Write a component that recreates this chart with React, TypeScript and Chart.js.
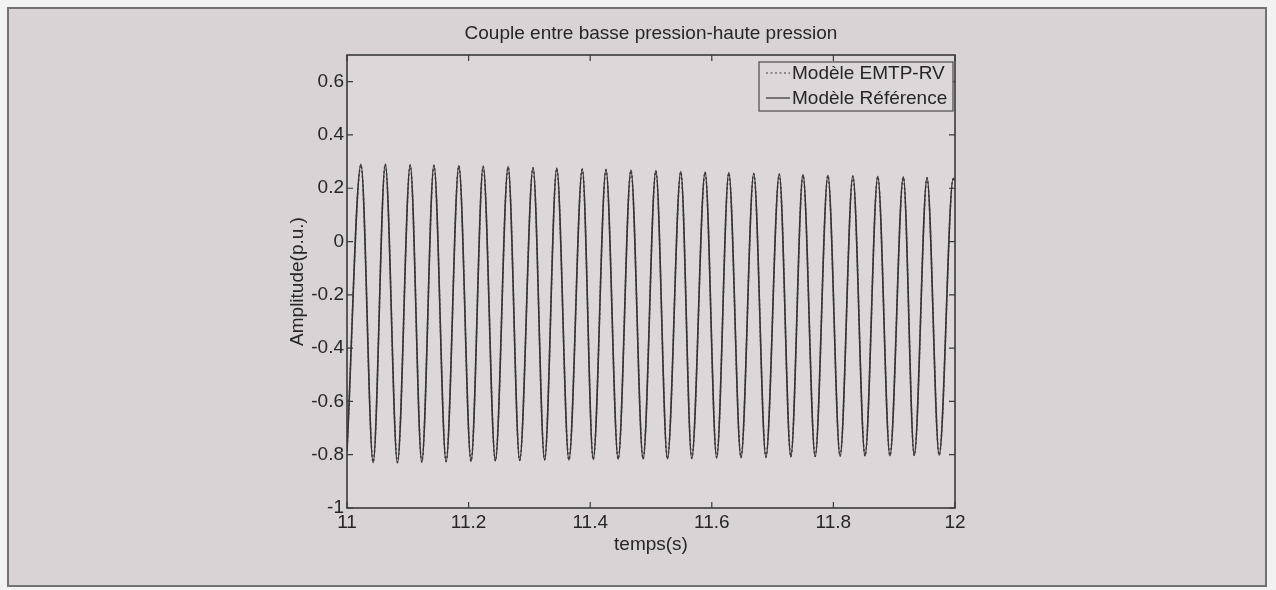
import React, { useEffect, useRef } from "react";
import { Chart, registerables } from "chart.js";

Chart.register(...registerables);

const chartTitle = "Couple entre basse pression-haute pression";
const xTitle = "temps(s)";
const yTitle = "Amplitude(p.u.)";
const seriesNames = ["Modèle EMTP-RV", "Modèle Référence"];

const xTickValues = [11, 11.2, 11.4, 11.6, 11.8, 12];
const xTickLabels = ["11", "11.2", "11.4", "11.6", "11.8", "12"];
const yTickValues = [-1, -0.8, -0.6, -0.4, -0.2, 0, 0.2, 0.4, 0.6];
const yTickLabels = ["-1", "-0.8", "-0.6", "-0.4", "-0.2", "0", "0.2", "0.4", "0.6"];

// time (s) of the start, each peak/trough, and the end
const timeS = [
  11.0, 11.023, 11.043, 11.063, 11.083, 11.104, 11.123, 11.143, 11.163, 11.184,
  11.204, 11.224, 11.244, 11.265, 11.284, 11.306, 11.325, 11.345, 11.365, 11.387,
  11.405, 11.426, 11.446, 11.467, 11.487, 11.508, 11.527, 11.549, 11.567, 11.589,
  11.608, 11.628, 11.648, 11.669, 11.689, 11.711, 11.73, 11.75, 11.77, 11.791,
  11.811, 11.832, 11.852, 11.873, 11.893, 11.915, 11.933, 11.954, 11.974, 11.997,
  12.0,
];

const referenceValues = [
  -0.79, 0.29, -0.83, 0.291, -0.831, 0.288, -0.828, 0.287, -0.826, 0.285,
  -0.825, 0.283, -0.823, 0.281, -0.822, 0.278, -0.82, 0.276, -0.82, 0.273,
  -0.818, 0.271, -0.817, 0.268, -0.816, 0.266, -0.815, 0.263, -0.814, 0.261,
  -0.812, 0.259, -0.811, 0.256, -0.81, 0.254, -0.808, 0.251, -0.807, 0.249,
  -0.806, 0.247, -0.805, 0.245, -0.804, 0.243, -0.803, 0.24, -0.802, 0.237,
  0.228,
];

const emtpValues = [
  -0.785, 0.287, -0.828, 0.289, -0.829, 0.286, -0.827, 0.285, -0.825, 0.283,
  -0.824, 0.281, -0.822, 0.279, -0.821, 0.276, -0.819, 0.274, -0.819, 0.271,
  -0.817, 0.269, -0.816, 0.266, -0.815, 0.264, -0.814, 0.261, -0.813, 0.259,
  -0.811, 0.257, -0.81, 0.254, -0.809, 0.252, -0.807, 0.249, -0.806, 0.247,
  -0.805, 0.245, -0.804, 0.243, -0.803, 0.241, -0.802, 0.238, -0.801, 0.235,
  0.226,
];

const FONT = '"Liberation Sans", Arial, Helvetica, sans-serif';
const TEXT = "#262626";
const PLOT_BG = "#dcd8da";

const matlabPlugin = {
  id: "matlabBox",
  beforeDatasetsDraw(chart: any) {
    const { ctx, chartArea } = chart;
    ctx.save();
    ctx.fillStyle = PLOT_BG;
    ctx.fillRect(chartArea.left, chartArea.top, chartArea.right - chartArea.left, chartArea.bottom - chartArea.top);
    ctx.restore();
  },
  afterDatasetsDraw(chart: any) {
    const { ctx, chartArea, scales } = chart;
    const { left, right, top, bottom } = chartArea;
    ctx.save();
    ctx.strokeStyle = "#3a3a3a";
    ctx.lineWidth = 1.6;
    ctx.strokeRect(left, top, right - left, bottom - top);
    const tl = 6;
    ctx.lineWidth = 1.2;
    ctx.beginPath();
    xTickValues.forEach((v) => {
      const px = scales.x.getPixelForValue(v);
      ctx.moveTo(px, bottom);
      ctx.lineTo(px, bottom - tl);
      ctx.moveTo(px, top);
      ctx.lineTo(px, top + tl);
    });
    yTickValues.forEach((v) => {
      const py = scales.y.getPixelForValue(v);
      ctx.moveTo(left, py);
      ctx.lineTo(left + tl, py);
      ctx.moveTo(right, py);
      ctx.lineTo(right - tl, py);
    });
    ctx.stroke();

    // legend (inside top-right)
    const lx = 759;
    const ly = 62;
    const lw = 194;
    const lh = 49;
    ctx.fillStyle = PLOT_BG;
    ctx.fillRect(lx, ly, lw, lh);
    ctx.strokeStyle = "#4a4a4a";
    ctx.lineWidth = 1.2;
    ctx.strokeRect(lx, ly, lw, lh);
    ctx.font = `19px ${FONT}`;
    ctx.textBaseline = "middle";
    ctx.textAlign = "left";
    chart.data.datasets.forEach((ds: any, i: number) => {
      const y = 73 + i * 25;
      ctx.strokeStyle = ds.borderColor;
      ctx.lineWidth = 1.2;
      ctx.setLineDash(ds.borderDash || []);
      ctx.beginPath();
      ctx.moveTo(766, y);
      ctx.lineTo(790, y);
      ctx.stroke();
      ctx.setLineDash([]);
      ctx.fillStyle = TEXT;
      ctx.fillText(ds.label, 792, y + 1);
    });
    ctx.restore();
  },
};

export default function App() {
  const canvasRef = useRef<HTMLCanvasElement | null>(null);

  useEffect(() => {
    document.body.style.margin = "0";
    const canvas = canvasRef.current;
    if (!canvas) return;
    const chart = new Chart(canvas, {
      type: "line",
      data: {
        datasets: [
          {
            label: seriesNames[0],
            data: timeS.map((t, i) => ({ x: t, y: emtpValues[i] })),
            borderColor: "#3a3a3a",
            borderWidth: 1.5,
            borderDash: [2, 2.5],
            pointRadius: 0,
            cubicInterpolationMode: "monotone",
            fill: false,
          },
          {
            label: seriesNames[1],
            data: timeS.map((t, i) => ({ x: t, y: referenceValues[i] })),
            borderColor: "#303030",
            borderWidth: 1.6,
            pointRadius: 0,
            cubicInterpolationMode: "monotone",
            fill: false,
          },
        ],
      },
      options: {
        animation: false,
        responsive: false,
        devicePixelRatio: 1,
        events: [],
        layout: { padding: { top: 22.6, left: 282, right: 321, bottom: 32 } },
        plugins: {
          legend: { display: false },
          tooltip: { enabled: false },
          title: {
            display: true,
            text: chartTitle,
            fullSize: false,
            color: TEXT,
            font: { family: FONT, size: 19, weight: "normal" },
            padding: { top: 0, bottom: 9.6 },
          },
        },
        scales: {
          x: {
            type: "linear",
            min: 11,
            max: 12,
            grid: { display: false, drawTicks: false },
            border: { display: false },
            afterBuildTicks: (s: any) => {
              s.ticks = xTickValues.map((value) => ({ value }));
            },
            afterFit: (s: any) => {
              s.height = 50;
            },
            ticks: {
              autoSkip: false,
              maxRotation: 0,
              padding: 3,
              color: TEXT,
              font: { family: FONT, size: 19 },
              callback: (_v: any, i: number) => xTickLabels[i],
            },
            title: {
              display: true,
              text: xTitle,
              color: TEXT,
              font: { family: FONT, size: 19 },
              padding: 2,
            },
          },
          y: {
            type: "linear",
            min: -1,
            max: 0.7,
            grid: { display: false, drawTicks: false },
            border: { display: false },
            afterBuildTicks: (s: any) => {
              s.ticks = yTickValues.map((value) => ({ value }));
            },
            afterFit: (s: any) => {
              s.width = 65;
            },
            ticks: {
              autoSkip: false,
              padding: 3,
              color: TEXT,
              font: { family: FONT, size: 19 },
              callback: (_v: any, i: number) => yTickLabels[i],
            },
            title: {
              display: true,
              text: yTitle,
              color: TEXT,
              font: { family: FONT, size: 19 },
              padding: 4,
            },
          },
        },
      },
      plugins: [matlabPlugin],
    } as any);
    return () => chart.destroy();
  }, []);

  return (
    <div
      style={{
        position: "fixed",
        left: 0,
        top: 0,
        width: 1276,
        height: 590,
        background: "#f3f2f2",
        overflow: "hidden",
      }}
    >
      <div
        style={{
          position: "absolute",
          left: 7,
          top: 7,
          width: 1260,
          height: 580,
          boxSizing: "border-box",
          border: "2px solid #727272",
          background: "#d8d4d6",
        }}
      />
      <canvas
        ref={canvasRef}
        width={1276}
        height={590}
        style={{ position: "absolute", left: 0, top: 0, width: 1276, height: 590 }}
      />
    </div>
  );
}
